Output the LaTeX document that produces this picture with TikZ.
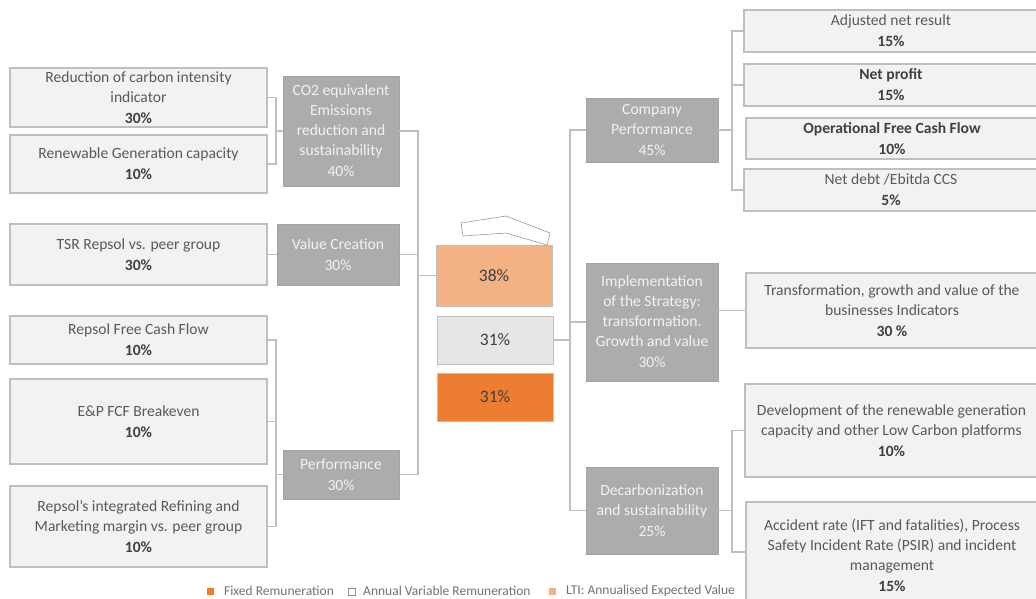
\documentclass[tikz,border=0pt]{standalone}
\usepackage{fontspec}
\setmainfont{Carlito}
\definecolor{lfill}{HTML}{F2F2F2}
\definecolor{lline}{HTML}{BFBFBF}
\definecolor{gfill}{HTML}{AEABAB}
\definecolor{gline}{HTML}{A5A2A2}
\definecolor{ltxt}{HTML}{595959}
\definecolor{dtxt}{HTML}{404040}
\definecolor{orl}{HTML}{F4B183}
\definecolor{ord}{HTML}{ED7D31}
\definecolor{lgray}{HTML}{E7E6E6}
\definecolor{conn}{HTML}{BFBFBF}
\newcommand{\pc}[1]{\\[1pt]{\bfseries\color{dtxt}#1}}
\newcommand{\gp}[1]{\\[1pt]#1}
\tikzset{
  lbox/.style={draw=lline, line width=1.2pt, fill=lfill, inner sep=0pt, align=center,
    text=ltxt, font=\fontsize{15.6}{20}\selectfont},
  gbox/.style={draw=gline, line width=0.8pt, fill=gfill, inner sep=0pt, align=center,
    text=lfill, font=\fontsize{15.6}{20}\selectfont},
  cbox/.style={draw=lline, line width=1pt, inner sep=0pt, align=center,
    text=dtxt, font=\fontsize{17.5}{20}\selectfont},
  conline/.style={draw=conn, line width=1.6pt},
  legtxt/.style={text=ltxt!85, font=\fontsize{13.5}{14}\selectfont, anchor=west, inner sep=0pt},
}
\begin{document}
\begin{tikzpicture}[x=1pt,y=-1pt]
\useasboundingbox (0,0) rectangle (1036,599);
\clip (0,0) rectangle (1036,599);
\fill[white] (0,0) rectangle (1036,599);

% left column
\node[lbox, minimum width=257pt, minimum height=59pt] (A1) at (138.5,97.5) {Reduction of carbon intensity\\indicator\pc{30\%}};
\node[lbox, minimum width=257pt, minimum height=58pt] (A2) at (138.5,164) {Renewable Generation capacity\pc{10\%}};
\node[lbox, minimum width=257pt, minimum height=61pt] (A3) at (138.5,254.5) {TSR Repsol vs. peer group\pc{30\%}};
\node[lbox, minimum width=257pt, minimum height=48pt] (A4) at (138.5,340) {Repsol Free Cash Flow\pc{10\%}};
\node[lbox, minimum width=257pt, minimum height=85pt] (A5) at (138.5,421.5) {E\&P FCF Breakeven\pc{10\%}};
\node[lbox, minimum width=257pt, minimum height=81pt] (A6) at (138.5,526.5) {Repsol's integrated Refining and\\Marketing margin vs. peer group\pc{10\%}};

% grey category boxes left
\node[gbox, minimum width=116pt, minimum height=110pt] (G1) at (341,131) {CO2 equivalent\\Emissions\\reduction and\\sustainability\gp{40\%}};
\node[gbox, minimum width=122pt, minimum height=61pt] (G2) at (338,254.5) {Value Creation\gp{30\%}};
\node[gbox, minimum width=116pt, minimum height=49pt] (G3) at (341,474.5) {Performance\gp{30\%}};

% centre boxes
\node[cbox, fill=orl, minimum width=116pt, minimum height=61pt] (O1) at (494,275.5) {38\%};
\node[cbox, fill=lgray, minimum width=116pt, minimum height=48pt] (L31) at (495,340) {31\%};
\node[cbox, fill=ord, minimum width=116pt, minimum height=48pt] (O31) at (495,397) {31\%};

% arrow-like outline above 38%
\draw[draw=lline!80!black, line width=0.6pt] (461,223) -- (506,216) -- (550,233) -- (547,245) -- (506,233) -- (463,236) -- cycle;

% grey category boxes right
\node[gbox, minimum width=132pt, minimum height=64pt] (CP) at (652,130) {Company\\Performance\gp{45\%}};
\node[gbox, minimum width=132pt, minimum height=118pt] (IM) at (652,322) {Implementation\\of the Strategy:\\transformation.\\Growth and value\gp{30\%}};
\node[gbox, minimum width=132pt, minimum height=87pt] (DC) at (652,510.5) {Decarbonization\\and sustainability\gp{25\%}};

% right column
\node[lbox, minimum width=294pt, minimum height=42pt] (R1) at (891,31) {Adjusted net result\pc{15\%}};
\node[lbox, minimum width=294pt, minimum height=42pt] (R2) at (891,85) {{\bfseries\color{dtxt}Net profit}\pc{15\%}};
\node[lbox, minimum width=292pt, minimum height=41pt] (R3) at (892,138.5) {{\bfseries\color{dtxt}Operational Free Cash Flow}\pc{10\%}};
\node[lbox, minimum width=294pt, minimum height=42pt] (R4) at (891,190) {Net debt /Ebitda CCS\pc{5\%}};
\node[lbox, minimum width=292pt, minimum height=75pt] (R5) at (892,310.5) {Transformation, growth and value of the\\businesses Indicators\pc{30 \%}};
\node[lbox, minimum width=293pt, minimum height=93pt] (R6) at (891.5,430.5) {Development of the renewable generation\\capacity and other Low Carbon platforms\pc{10\%}};
\node[lbox, minimum width=292pt, minimum height=106pt] (R7) at (892,555) {Accident rate (IFT and fatalities), Process\\Safety Incident Rate (PSIR) and incident\\management\pc{15\%}};

% coordinates for connector spines
\coordinate (lb) at (276,0);
\coordinate (lv) at (418,0);
\coordinate (rv) at (570,0);
\coordinate (rb) at (732,0);

% left brackets
\draw[conline] (A1.east) -| (lb |- A2.east) -- (A2.east);
\draw[conline] (lb |- G1.west) -- (G1.west);
\draw[conline] (A3.east) -- (G2.west);
\draw[conline] (A4.east) -| (lb |- A6.east) -- (A6.east);
\draw[conline] (A5.east) -- (lb |- A5.east);
\draw[conline] (lb |- G3.west) -- (G3.west);

% central spine left
\draw[conline] (G1.east) -| (lv |- G3.east) -- (G3.east);
\draw[conline] (G2.east) -- (lv |- G2.east);
\draw[conline] (lv |- O1.west) -- (O1.west);

% central spine right
\draw[conline] (CP.west) -| (rv |- DC.west) -- (DC.west);
\draw[conline] (L31.east) -- (rv |- L31.east);
\draw[conline] (rv |- IM.west) -- (IM.west);

% right brackets
\draw[conline] (CP.east) -- (rb |- CP.east);
\draw[conline] (R1.west) -| (rb |- R4.west) -- (R4.west);
\draw[conline] (R2.west) -- (rb |- R2.west);
\draw[conline] (IM.east |- R5.west) -- (R5.west);
\draw[conline] (DC.east) -- (rb |- DC.east);
\coordinate (r7t) at (746,552);
\draw[conline] (R6.west) -| (rb |- r7t) -- (r7t);

% legend
\node[fill=ord, minimum size=7pt, inner sep=0pt] (k1) at (210,591) {};
\node[legtxt] (t1) at (224,591) {Fixed Remuneration};
\node[draw=ltxt!70, line width=0.5pt, fill=white, minimum size=7pt, inner sep=0pt] (k2) at (352,591.5) {};
\node[legtxt] (t2) at (363,591) {Annual Variable Remuneration};
\node[fill=orl, minimum size=7pt, inner sep=0pt] (k3) at (552,591) {};
\node[legtxt] (t3) at (566,591) {LTI: Annualised Expected Value};
\end{tikzpicture}
\end{document}
